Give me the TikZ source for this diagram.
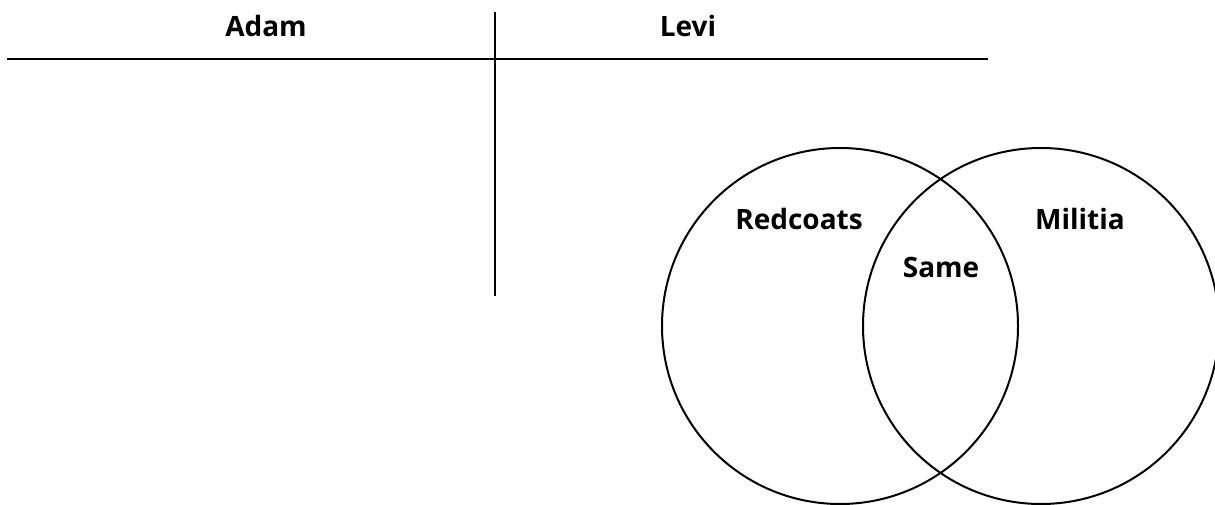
\documentclass[tikz,border=0pt]{standalone}
\usepackage{fontspec}
\setmainfont{Open Sans}
\begin{document}
\begin{tikzpicture}[x=1pt,y=1pt,
  lbl/.style={font=\fontsize{28}{30}\selectfont\bfseries, anchor=base, inner sep=0pt},
  ring/.style={draw, circle, line width=2pt, minimum size=356pt, inner sep=0pt},
  rule/.style={line width=2.6pt}]
\useasboundingbox (0,0) rectangle (1215,504);
% T-chart
\coordinate (hl) at (7,445);
\coordinate (hr) at (988,445);
\coordinate (vt) at (495,492);
\coordinate (vb) at (495,208);
\draw[rule] (hl) -- (hr);
\draw[rule] (vt) -- (vb);
\node[lbl] (adam) at (266,467) {Adam};
\node[lbl] (levi) at (688,467) {Levi};
% Venn
\node[ring] (red) at (840,178) {};
\node[ring] (mil) at (1041,178) {};
\node[lbl] (tred) at (799,274) {Redcoats};
\node[lbl] (tmil) at (1080,274) {Militia};
\node[lbl] (tsame) at (941,226) {Same};
\end{tikzpicture}
\end{document}
